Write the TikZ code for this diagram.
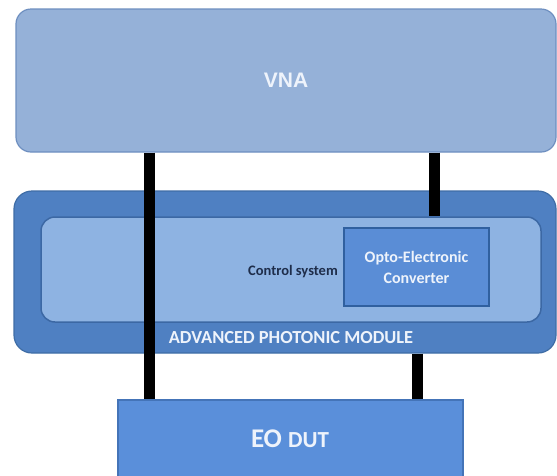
\documentclass[tikz,border=0pt]{standalone}
\usepackage{fontspec}
\newfontfamily\carl{Carlito}
\newfontfamily\lsans{Liberation Sans}
\definecolor{vnafill}{HTML}{95B1D8}
\definecolor{vnaline}{HTML}{6E8FC0}
\definecolor{modfill}{HTML}{4F80C2}
\definecolor{modline}{HTML}{3F6DA6}
\definecolor{innfill}{HTML}{8EB3E2}
\definecolor{innline}{HTML}{3C68A4}
\definecolor{optofill}{HTML}{5A8DD6}
\definecolor{optoline}{HTML}{30609F}
\definecolor{eofill}{HTML}{5A8FDA}
\definecolor{eoline}{HTML}{4474B8}
\definecolor{lighttext}{HTML}{EEF3FB}
\definecolor{darktext}{HTML}{1E2D4A}
\tikzset{
  box/.style={rectangle, inner sep=0pt, line width=1.2pt},
  vnabox/.style={box, draw=vnaline, fill=vnafill, rounded corners=15pt, text=lighttext,
    font=\lsans\bfseries\fontsize{21}{25}\selectfont},
  modbox/.style={box, draw=modline, fill=modfill, rounded corners=18pt},
  innbox/.style={box, draw=innline, fill=innfill, rounded corners=14pt, line width=1.5pt},
  optobox/.style={box, draw=optoline, fill=optofill, text=lighttext, align=center,
    font=\carl\bfseries\fontsize{16}{21}\selectfont},
  eobox/.style={box, draw=eoline, fill=eofill},
  cable/.style={line width=11pt, black},
  lbl/.style={inner sep=0pt}
}
\begin{document}
\begin{tikzpicture}[x=1pt,y=-1pt]
\useasboundingbox (0,0) rectangle (557,475);
\clip (0,0) rectangle (557,475);
\fill[white] (0,0) rectangle (557,475);
% VNA
\node[vnabox, minimum width=540pt, minimum height=143pt] (vna) at (286,80.5) {VNA};
% module
\node[modbox, minimum width=542pt, minimum height=162pt] (mod) at (285,272) {};
\node[innbox, minimum width=500pt, minimum height=105pt] (inn) at (291,269.5) {};
\node[optobox, minimum width=145pt, minimum height=78pt] (opto) at (416.5,267) {Opto-Electronic\\Converter};
\node[lbl, text=darktext, font=\carl\bfseries\fontsize{14.5}{17}\selectfont, anchor=east] (ctrl) at (338,272) {Control system};
\node[lbl, text=lighttext, font=\carl\bfseries\fontsize{18.4}{22}\selectfont] (apm) at (291,338) {ADVANCED PHOTONIC MODULE};
% EO DUT
\node[eobox, minimum width=345pt, minimum height=80pt] (eo) at (290.5,440) {};
\node[lbl, text=lighttext, font=\carl\bfseries] (eot) at (290,439) {\fontsize{27}{30}\selectfont EO \fontsize{23}{30}\selectfont DUT};
% cables
\coordinate (lx) at (149,0);
\coordinate (rtx) at (434,0);
\coordinate (rbx) at (417,0);
\draw[cable] (vna.south -| lx) -- (eo.north -| lx);
\draw[cable] (vna.south -| rtx) -- (inn.north -| rtx);
\draw[cable] (mod.south -| rbx) -- (eo.north -| rbx);
\end{tikzpicture}
\end{document}
